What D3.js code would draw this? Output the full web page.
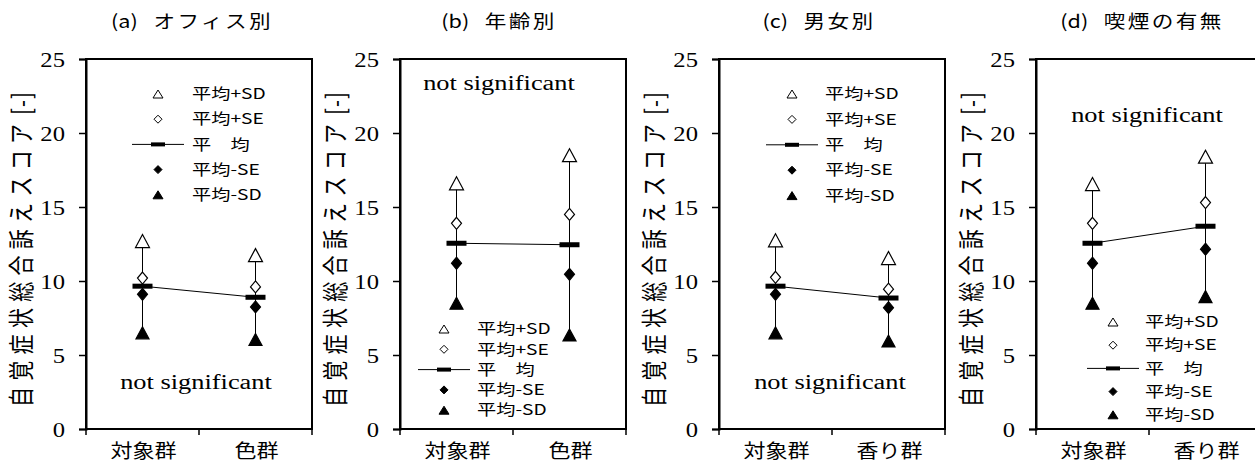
<!DOCTYPE html>
<html>
<head>
<meta charset="utf-8">
<script src="https://cdn.jsdelivr.net/npm/d3@7/dist/d3.min.js"></script>
<style>
  body { margin: 0; background: #fff; }
</style>
</head>
<body>
<div id="chart"></div>
<script>
// data
const titleTags = ["(a)", "(b)", "(c)", "(d)"];
const titles = ["オフィス別", "年齢別", "男女別", "喫煙の有無"];
const groups = [["対象群", "色群"], ["対象群", "色群"], ["対象群", "香り群"], ["対象群", "香り群"]];
const plusSD  = [[12.7, 11.75], [16.6, 18.5], [12.75, 11.55], [16.55, 18.4]];
const plusSE  = [[10.2, 9.6],   [13.9, 14.5], [10.25, 9.45],  [13.9, 15.3]];
const means   = [[9.65, 8.9],   [12.55, 12.45], [9.65, 8.85], [12.55, 13.7]];
const minusSE = [[9.1, 8.25],   [11.2, 10.45], [9.1, 8.2],    [11.2, 12.15]];
const minusSD = [[6.5, 6.05],   [8.5, 6.35],  [6.5, 5.95],    [8.5, 8.95]];
const yTicks = [0, 5, 10, 15, 20, 25];
const legendLabels = ["平均+SD", "平均+SE", "平\u3000均", "平均-SE", "平均-SD"];
const noteText = "not significant";
const yLabel = "自覚症状総合訴えスコア";
const yUnit = "[-]";

const JP = "'Noto Sans CJK JP', 'Noto Sans', sans-serif";
const SERIF = "'Liberation Serif', 'DejaVu Serif', serif";

const W = 1255, H = 465;
const panelX = [86, 400, 719, 1036];
const plotW = 226, plotTop = 59, plotBottom = 429;

// the original picture was stretched sideways, so text is widened too
const SX = 1.28;

// per-panel placement of legend / note / title (relative to panel left)
const legendPos = [
  { sx: 72, tx: 106, y0: 94, step: 25.2 },
  { sx: 44, tx: 77, y0: 329, step: 20.3 },
  { sx: 73, tx: 106, y0: 94, step: 25.4 },
  { sx: 77, tx: 109, y0: 322, step: 23.2 }
];
const notePos = [{ x: 110, y: 382 }, { x: 99, y: 83 }, { x: 111, y: 382 }, { x: 111, y: 115 }];
const titleX = [106, 99, 100, 106];

const svg = d3.select("#chart").append("svg")
  .attr("width", W).attr("height", H)
  .style("background", "#fff");

const y = d3.scaleLinear().domain([0, 25]).range([plotBottom, plotTop]);

// marker shapes
function tri(w, h) { return `M0,${-h / 2}L${w / 2},${h / 2}L${-w / 2},${h / 2}Z`; }
function dia(w, h) { return `M0,${-h / 2}L${w / 2},0L0,${h / 2}L${-w / 2},0Z`; }

// text placed at (x,y) and widened by sx
function wideText(parent, x, y, sx) {
  return parent.append("text")
    .attr("transform", `translate(${x},${y}) scale(${sx},1)`)
    .attr("dy", "0.35em").attr("fill", "#000");
}

panelX.forEach((px, p) => {
  const g = svg.append("g").attr("transform", `translate(${px},0)`);
  const x = d3.scaleBand().domain(groups[p]).range([0, plotW]).padding(0);
  const cx = d => x(d) + x.bandwidth() / 2;

  // title
  const t = wideText(g, titleX[p], 22, 1.2)
    .attr("text-anchor", "middle")
    .style("font-family", JP).style("font-size", "18px");
  t.append("tspan").text(titleTags[p]);
  t.append("tspan").attr("dx", 13).style("letter-spacing", "2px").text(titles[p]);

  // y label
  const yl = g.append("text")
    .attr("transform", `translate(-64,407) rotate(-90) scale(1,1.28)`)
    .attr("dy", "0.36em").attr("text-anchor", "start")
    .style("font-family", JP).style("font-size", "20px");
  yl.append("tspan").style("letter-spacing", "6.3px").text(yLabel);
  yl.append("tspan").attr("dx", 3).style("letter-spacing", "1px").text(yUnit);

  // frame
  g.append("rect")
    .attr("x", 0).attr("y", plotTop)
    .attr("width", plotW).attr("height", plotBottom - plotTop)
    .attr("fill", "none").attr("stroke", "#000").attr("stroke-width", 2);

  // y axis
  const ya = g.append("g").call(d3.axisLeft(y).tickValues(yTicks).tickSize(7).tickPadding(14));
  ya.select(".domain").attr("stroke-width", 2);
  ya.selectAll(".tick line").attr("stroke-width", 1.5);
  ya.selectAll(".tick text")
    .attr("x", 0).attr("transform", "translate(-21,0) scale(1.12,1)")
    .style("font-family", SERIF).style("font-size", "22px");

  // x axis ticks at band edges
  const edges = groups[p].map(d => x(d)).concat([plotW]);
  g.selectAll(".xt").data(edges).enter().append("line")
    .attr("x1", d => d).attr("x2", d => d)
    .attr("y1", plotBottom).attr("y2", plotBottom + 6)
    .attr("stroke", "#000").attr("stroke-width", 1.5);
  groups[p].forEach(d => {
    wideText(g, cx(d) + 1, 451, 1.16)
      .attr("text-anchor", "middle")
      .style("font-family", JP).style("font-size", "19px")
      .text(d);
  });

  const rows = groups[p].map((d, i) => ({
    name: d, sdp: plusSD[p][i], sep: plusSE[p][i], m: means[p][i], sem: minusSE[p][i], sdm: minusSD[p][i]
  }));

  // whiskers
  g.selectAll(".wh").data(rows).enter().append("line")
    .attr("x1", d => cx(d.name)).attr("x2", d => cx(d.name))
    .attr("y1", d => y(d.sdp)).attr("y2", d => y(d.sdm))
    .attr("stroke", "#000").attr("stroke-width", 1);

  // mean line
  g.append("path").datum(rows)
    .attr("d", d3.line().x(d => cx(d.name)).y(d => y(d.m)))
    .attr("fill", "none").attr("stroke", "#000").attr("stroke-width", 1);

  // markers
  const mk = (key, shape, fill) => g.selectAll(null).data(rows).enter().append("path")
    .attr("transform", d => `translate(${cx(d.name)},${y(d[key])})`)
    .attr("d", shape).attr("fill", fill).attr("stroke", "#000").attr("stroke-width", 1.2);
  mk("sdp", tri(14, 13), "#fff");
  mk("sep", dia(10, 12), "#fff");
  mk("sem", dia(10, 12), "#000");
  mk("sdm", tri(13, 12), "#000");
  g.selectAll(null).data(rows).enter().append("rect")
    .attr("x", d => cx(d.name) - 10).attr("y", d => y(d.m) - 2.5)
    .attr("width", 20).attr("height", 5).attr("fill", "#000");

  // note
  wideText(g, notePos[p].x, notePos[p].y, 1.32)
    .attr("text-anchor", "middle")
    .style("font-family", SERIF).style("font-size", "20px")
    .text(noteText);

  // legend
  const L = legendPos[p];
  const lg = g.append("g");
  legendLabels.forEach((lab, i) => {
    const ly = L.y0 + i * L.step;
    const s = lg.append("g").attr("transform", `translate(${L.sx},${ly})`);
    if (i === 0) s.append("path").attr("d", tri(10, 8)).attr("fill", "#fff").attr("stroke", "#000");
    if (i === 1) s.append("path").attr("d", dia(8, 8)).attr("fill", "#fff").attr("stroke", "#000");
    if (i === 2) {
      s.append("line").attr("x1", -26).attr("x2", 26).attr("stroke", "#000").attr("stroke-width", 1);
      s.append("rect").attr("x", -7).attr("y", -2).attr("width", 14).attr("height", 4).attr("fill", "#000");
    }
    if (i === 3) s.append("path").attr("d", dia(8, 8)).attr("fill", "#000").attr("stroke", "#000");
    if (i === 4) s.append("path").attr("d", tri(10, 8)).attr("fill", "#000").attr("stroke", "#000");
    wideText(lg, L.tx, ly, SX)
      .style("font-family", JP).style("font-size", "15px")
      .text(lab);
  });
});
</script>
</body>
</html>
